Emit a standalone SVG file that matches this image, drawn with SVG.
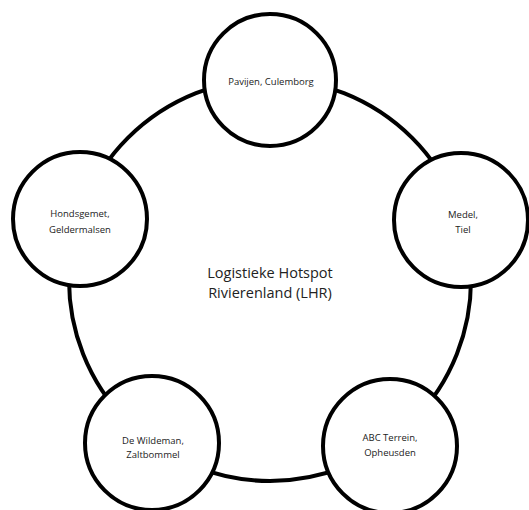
<svg xmlns="http://www.w3.org/2000/svg" width="529" height="510" viewBox="0 0 529 510">
<style>
.ring{fill:none;stroke:#000;stroke-width:4}
.node{fill:#fff;stroke:#000;stroke-width:4}
.lbl{font-family:"Open Sans","Liberation Sans",sans-serif;font-size:9.5px;fill:#222;text-anchor:middle}
.hub{font-family:"Open Sans","Liberation Sans",sans-serif;font-size:14.5px;fill:#222;text-anchor:middle}
</style>
<rect width="529" height="510" fill="#fff"/>
<g id="connectors">
<circle class="ring" cx="270" cy="280" r="201"/>
</g>
<g id="hub">
<text class="hub" x="270" y="278">Logistieke Hotspot</text>
<text class="hub" x="270" y="298">Rivierenland (LHR)</text>
</g>
<g id="pavijen">
<circle class="node" cx="270" cy="80" r="66"/>
<text class="lbl" x="271" y="85">Pavijen, Culemborg</text>
</g>
<g id="medel">
<circle class="node" cx="461" cy="220" r="67"/>
<text class="lbl" x="463" y="218">Medel,</text>
<text class="lbl" x="463" y="233">Tiel</text>
</g>
<g id="abc">
<circle class="node" cx="390" cy="446" r="67"/>
<text class="lbl" x="390" y="441">ABC Terrein,</text>
<text class="lbl" x="390" y="456">Opheusden</text>
</g>
<g id="wildeman">
<circle class="node" cx="152" cy="443" r="67"/>
<text class="lbl" x="153" y="444">De Wildeman,</text>
<text class="lbl" x="153" y="458">Zaltbommel</text>
</g>
<g id="hondsgemet">
<circle class="node" cx="80" cy="219" r="67"/>
<text class="lbl" x="80" y="217">Hondsgemet,</text>
<text class="lbl" x="80" y="233">Geldermalsen</text>
</g>
</svg>
